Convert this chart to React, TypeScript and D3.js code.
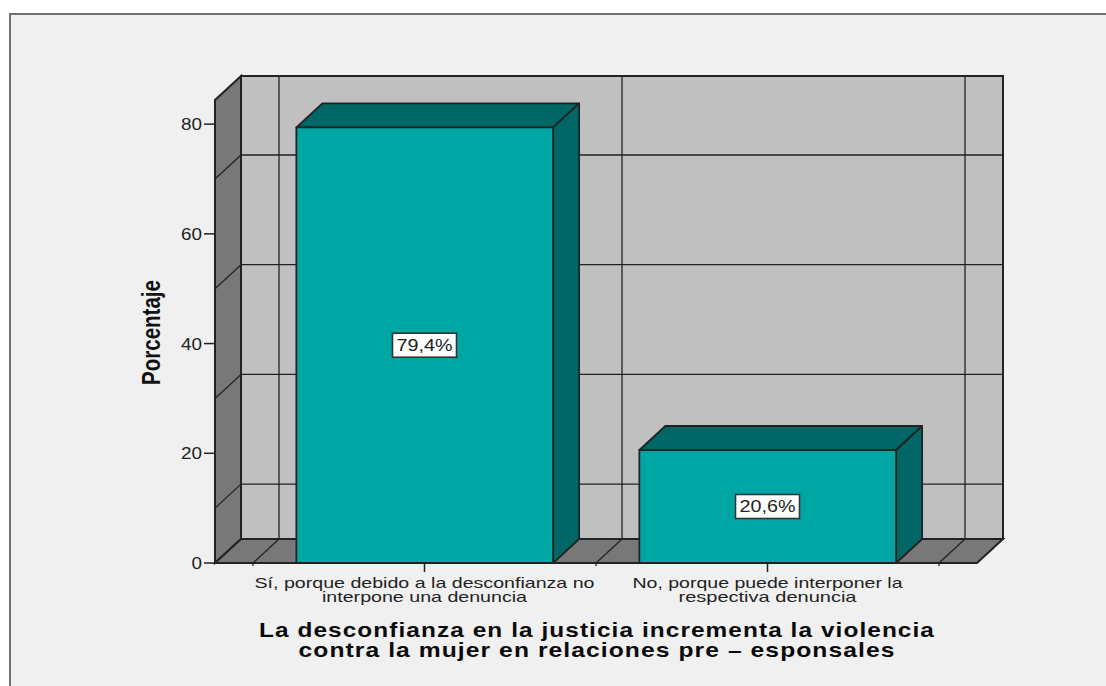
import React from 'react';
import * as d3 from 'd3';

const categories = ['si', 'no'];
const categoryLines = [
  ['Sí, porque debido a la desconfianza no', 'interpone una denuncia'],
  ['No, porque puede interponer la', 'respectiva denuncia'],
];
// rendered widths of the stretched labels in the picture
const categoryWidths = [
  [340, 205],
  [270, 178],
];
const percentages = [79.4, 20.6];
const percentLabels = ['79,4%', '20,6%'];
const yTicks = [0, 20, 40, 60, 80];
const gridValues = [10, 30, 50, 70];
const titleLines = [
  'La desconfianza en la justicia incrementa la violencia',
  'contra la mujer en relaciones pre – esponsales',
];
const titleWidths = [676, 597];

const W = 1106;
const H = 686;
const left = 215;
const right = 977;
const base = 563;
const depth = { x: 26, y: 24 };
const font = '"Liberation Sans", Arial, sans-serif';
const stroke = '#222';

const y = d3.scaleLinear().domain([0, 84.4]).range([base, 100]);
const x = d3.scaleBand().domain(categories).range([253, 939]).paddingInner(0).paddingOuter(0);
const barW = x.bandwidth() * 0.75;

const poly = (pts: number[][]) => d3.line()(pts as [number, number][]) + 'Z';

export default function App() {
  const top = y.range()[1];
  const edges = [x.range()[0], x(categories[1])!, x.range()[1]];
  return (
    <svg width={W} height={H} style={{ position: 'absolute', left: 0, top: 0, background: '#fff' }}>
      {/* panel */}
      <rect x={10} y={14} width={W} height={H} fill="#f0f0f0" stroke="#707070" strokeWidth={2} />

      {/* walls */}
      <path d={poly([[left + depth.x, top - depth.y], [right + depth.x, top - depth.y], [right + depth.x, base - depth.y], [left + depth.x, base - depth.y]])} fill="#c0c0c0" stroke={stroke} strokeWidth={2} />
      <path d={poly([[left, top], [left + depth.x, top - depth.y], [left + depth.x, base - depth.y], [left, base]])} fill="#787878" stroke={stroke} strokeWidth={2} />
      <path d={poly([[left, base], [left + depth.x, base - depth.y], [right + depth.x, base - depth.y], [right, base]])} fill="#787878" stroke={stroke} strokeWidth={2} />

      {/* grid */}
      {gridValues.map((v) => (
        <g key={v} fill="none" stroke={stroke} strokeWidth={1.3}>
          <line x1={left} y1={y(v)} x2={left + depth.x} y2={y(v) - depth.y} />
          <line x1={left + depth.x} y1={y(v) - depth.y} x2={right + depth.x} y2={y(v) - depth.y} />
        </g>
      ))}
      {edges.map((e) => (
        <g key={e} stroke={stroke} strokeWidth={1.3}>
          <line x1={e} y1={base} x2={e + depth.x} y2={base - depth.y} />
          <line x1={e + depth.x} y1={base - depth.y} x2={e + depth.x} y2={top - depth.y} />
          <line x1={e} y1={base} x2={e} y2={base + 3} />
        </g>
      ))}

      {/* bars */}
      {categories.map((c, i) => {
        const x0 = x(c)! + (x.bandwidth() - barW) / 2 + 0.5;
        const x1 = x0 + barW - 0.5;
        const yv = y(percentages[i]);
        return (
          <g key={c} stroke={stroke} strokeWidth={1.8} strokeLinejoin="round">
            <path d={poly([[x0, yv], [x0 + depth.x, yv - depth.y], [x1 + depth.x, yv - depth.y], [x1, yv]])} fill="#006666" />
            <path d={poly([[x1, yv], [x1 + depth.x, yv - depth.y], [x1 + depth.x, base - depth.y], [x1, base]])} fill="#006666" />
            <rect x={x0} y={yv} width={x1 - x0} height={base - yv} fill="#00a6a4" />
          </g>
        );
      })}

      {/* value labels */}
      {categories.map((c, i) => {
        const cx = x(c)! + x.bandwidth() / 2;
        const cy = y(percentages[i] / 2);
        return (
          <g key={c}>
            <rect x={cx - 32} y={cy - 12} width={64} height={24} fill="#fff" stroke="#333" strokeWidth={1.6} />
            <text x={cx - 28} y={cy + 6} textLength={56} lengthAdjust="spacingAndGlyphs" fontFamily={font} fontSize={17} fill="#222">{percentLabels[i]}</text>
          </g>
        );
      })}

      {/* y axis */}
      <line x1={left} y1={top} x2={left} y2={base} stroke={stroke} strokeWidth={2} />
      {yTicks.map((t) => {
        const w = String(t).length * 10.5;
        return (
          <g key={t}>
            <line x1={left - 11} y1={y(t)} x2={left} y2={y(t)} stroke={stroke} strokeWidth={1.5} />
            <text x={left - 13 - w} y={y(t) + 6} textLength={w} lengthAdjust="spacingAndGlyphs" fontFamily={font} fontSize={16} fill="#222">{t}</text>
          </g>
        );
      })}
      <text transform="translate(160,385) rotate(-90)" textLength={105} lengthAdjust="spacingAndGlyphs" fontFamily={font} fontWeight="bold" fontSize={25} fill="#111">Porcentaje</text>

      {/* x axis */}
      <line x1={left} y1={base} x2={right} y2={base} stroke={stroke} strokeWidth={2} />
      {categories.map((c, i) => {
        const cx = x(c)! + x.bandwidth() / 2;
        return (
          <g key={c}>
            <line x1={cx} y1={base} x2={cx} y2={base + 9} stroke={stroke} strokeWidth={1.5} />
            <text fontFamily={font} fontSize={15} fill="#222">
              {categoryLines[i].map((l, j) => (
                <tspan key={l} x={cx - categoryWidths[i][j] / 2} y={588 + j * 14} textLength={categoryWidths[i][j]} lengthAdjust="spacingAndGlyphs">{l}</tspan>
              ))}
            </text>
          </g>
        );
      })}

      {/* axis title */}
      <text fontFamily={font} fontWeight="bold" fontSize={20.5} letterSpacing={0.9} fill="#0a0a0a">
        {titleLines.map((l, j) => (
          <tspan key={l} x={597 - titleWidths[j] / 2} y={637 + j * 20} textLength={titleWidths[j]} lengthAdjust="spacingAndGlyphs">{l}</tspan>
        ))}
      </text>
    </svg>
  );
}
